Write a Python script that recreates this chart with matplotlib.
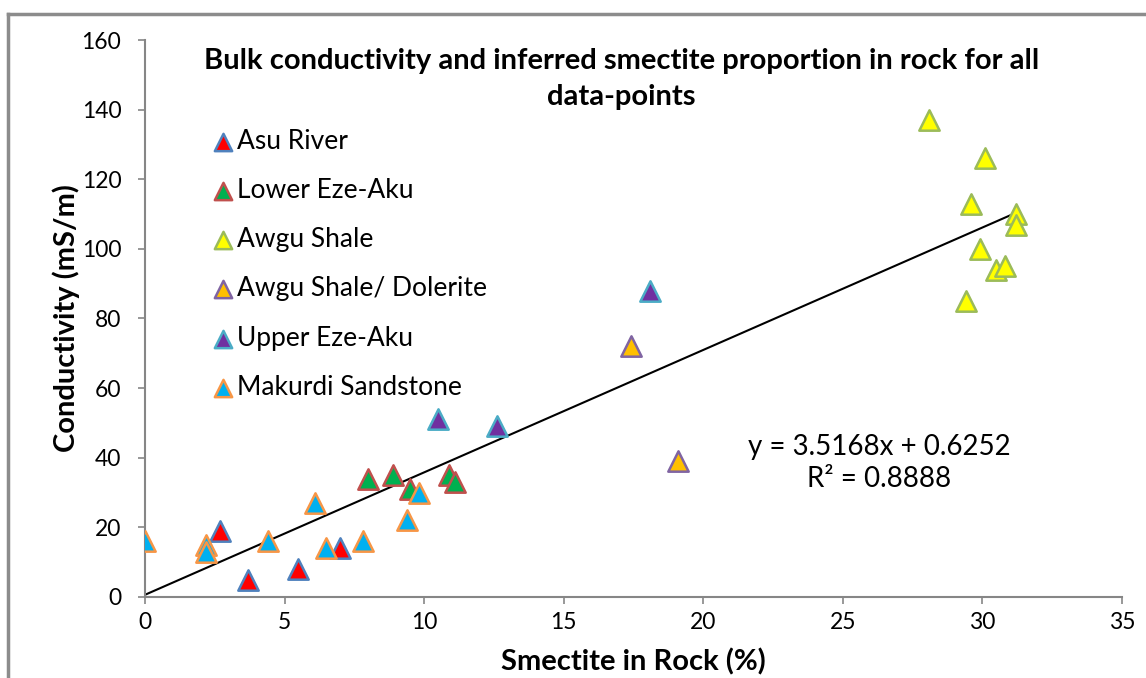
import matplotlib.pyplot as plt
from matplotlib.lines import Line2D

plt.rcParams['font.family'] = ['Lato', 'DejaVu Sans']

asu_x = [3.7, 5.5, 7.0, 2.7]
asu_y = [5, 8, 14, 19]

lower_x = [8.0, 8.9, 9.5, 10.9, 11.1]
lower_y = [34, 35, 31, 35, 33]

awgu_x = [28.1, 30.1, 29.6, 31.2, 31.2, 29.9, 30.5, 30.8, 29.4]
awgu_y = [137, 126, 113, 110, 107, 100, 94, 95, 85]

dolerite_x = [17.4, 19.1]
dolerite_y = [72, 39]

upper_x = [18.1, 10.5, 12.6]
upper_y = [88, 51, 49]

makurdi_x = [0.0, 2.2, 2.2, 4.4, 6.1, 6.5, 7.8, 9.4, 9.8]
makurdi_y = [16, 15, 13, 16, 27, 14, 16, 22, 30]

slope = 3.5168
intercept = 0.6252
r2 = 0.8888

series = [
    ('Asu River', asu_x, asu_y, '#ff0000', '#4f81bd'),
    ('Lower Eze-Aku', lower_x, lower_y, '#00b050', '#c0504d'),
    ('Awgu Shale', awgu_x, awgu_y, '#ffff00', '#9bbb59'),
    ('Awgu Shale/ Dolerite', dolerite_x, dolerite_y, '#ffc000', '#8064a2'),
    ('Upper Eze-Aku', upper_x, upper_y, '#7030a0', '#4bacc6'),
    ('Makurdi Sandstone', makurdi_x, makurdi_y, '#00b0f0', '#f79646'),
]

fig = plt.figure(figsize=(11.46, 6.78), dpi=100)
ax = fig.add_axes([0.1265, 0.1195, 0.8525, 0.8215])

for name, xs, ys, fc, ec in series:
    ax.scatter(xs, ys, marker='^', s=215, facecolor=fc, edgecolor=ec,
               linewidth=1.8, label=name, zorder=3)

# linear trendline over the data range
all_x = asu_x + lower_x + awgu_x + dolerite_x + upper_x + makurdi_x
x0, x1 = 0, max(all_x)
ax.plot([x0, x1], [slope * x0 + intercept, slope * x1 + intercept],
        color='black', linewidth=1.5, zorder=2)

ax.text(26.3, 38.5, f'y = {slope}x + {intercept}\nR² = {r2}', fontsize=20,
        ha='center', va='center', linespacing=1.3)

ax.set_xlim(0, 35)
ax.set_ylim(0, 160)
ax.set_xticks(range(0, 36, 5))
ax.set_yticks(range(0, 161, 20))
ax.tick_params(labelsize=16.5, length=5, width=1.2, color='#868686')
ax.tick_params(axis='x', pad=6)
ax.tick_params(axis='y', pad=12)
for side in ['top', 'right']:
    ax.spines[side].set_visible(False)
for side in ['left', 'bottom']:
    ax.spines[side].set_color('#868686')
    ax.spines[side].set_linewidth(1.5)

ax.set_xlabel('Smectite in Rock (%)', fontsize=21, fontweight='bold', labelpad=11)
ax.set_ylabel('Conductivity (mS/m)', fontsize=21, fontweight='bold', labelpad=1)

fig.text(0.542, 0.8835, 'Bulk conductivity and inferred smectite proportion in rock for all\ndata-points',
         fontsize=21, fontweight='bold', ha='center', va='center', linespacing=1.5)

leg = ax.legend(loc='upper left', bbox_to_anchor=(0.042, 0.86), frameon=False,
                fontsize=19, labelspacing=0.92, handletextpad=-0.45,
                markerscale=0.85, scatterpoints=1, borderaxespad=0)

# chart area border, cut by the image edges
fig.add_artist(Line2D([0.007, 1.0], [0.979, 0.979], color='#8c8c8c', linewidth=2.5,
                      transform=fig.transFigure))
fig.add_artist(Line2D([0.007, 0.007], [0.0, 0.979], color='#8c8c8c', linewidth=2.5,
                      transform=fig.transFigure))

fig.savefig('out.png', dpi=100)
